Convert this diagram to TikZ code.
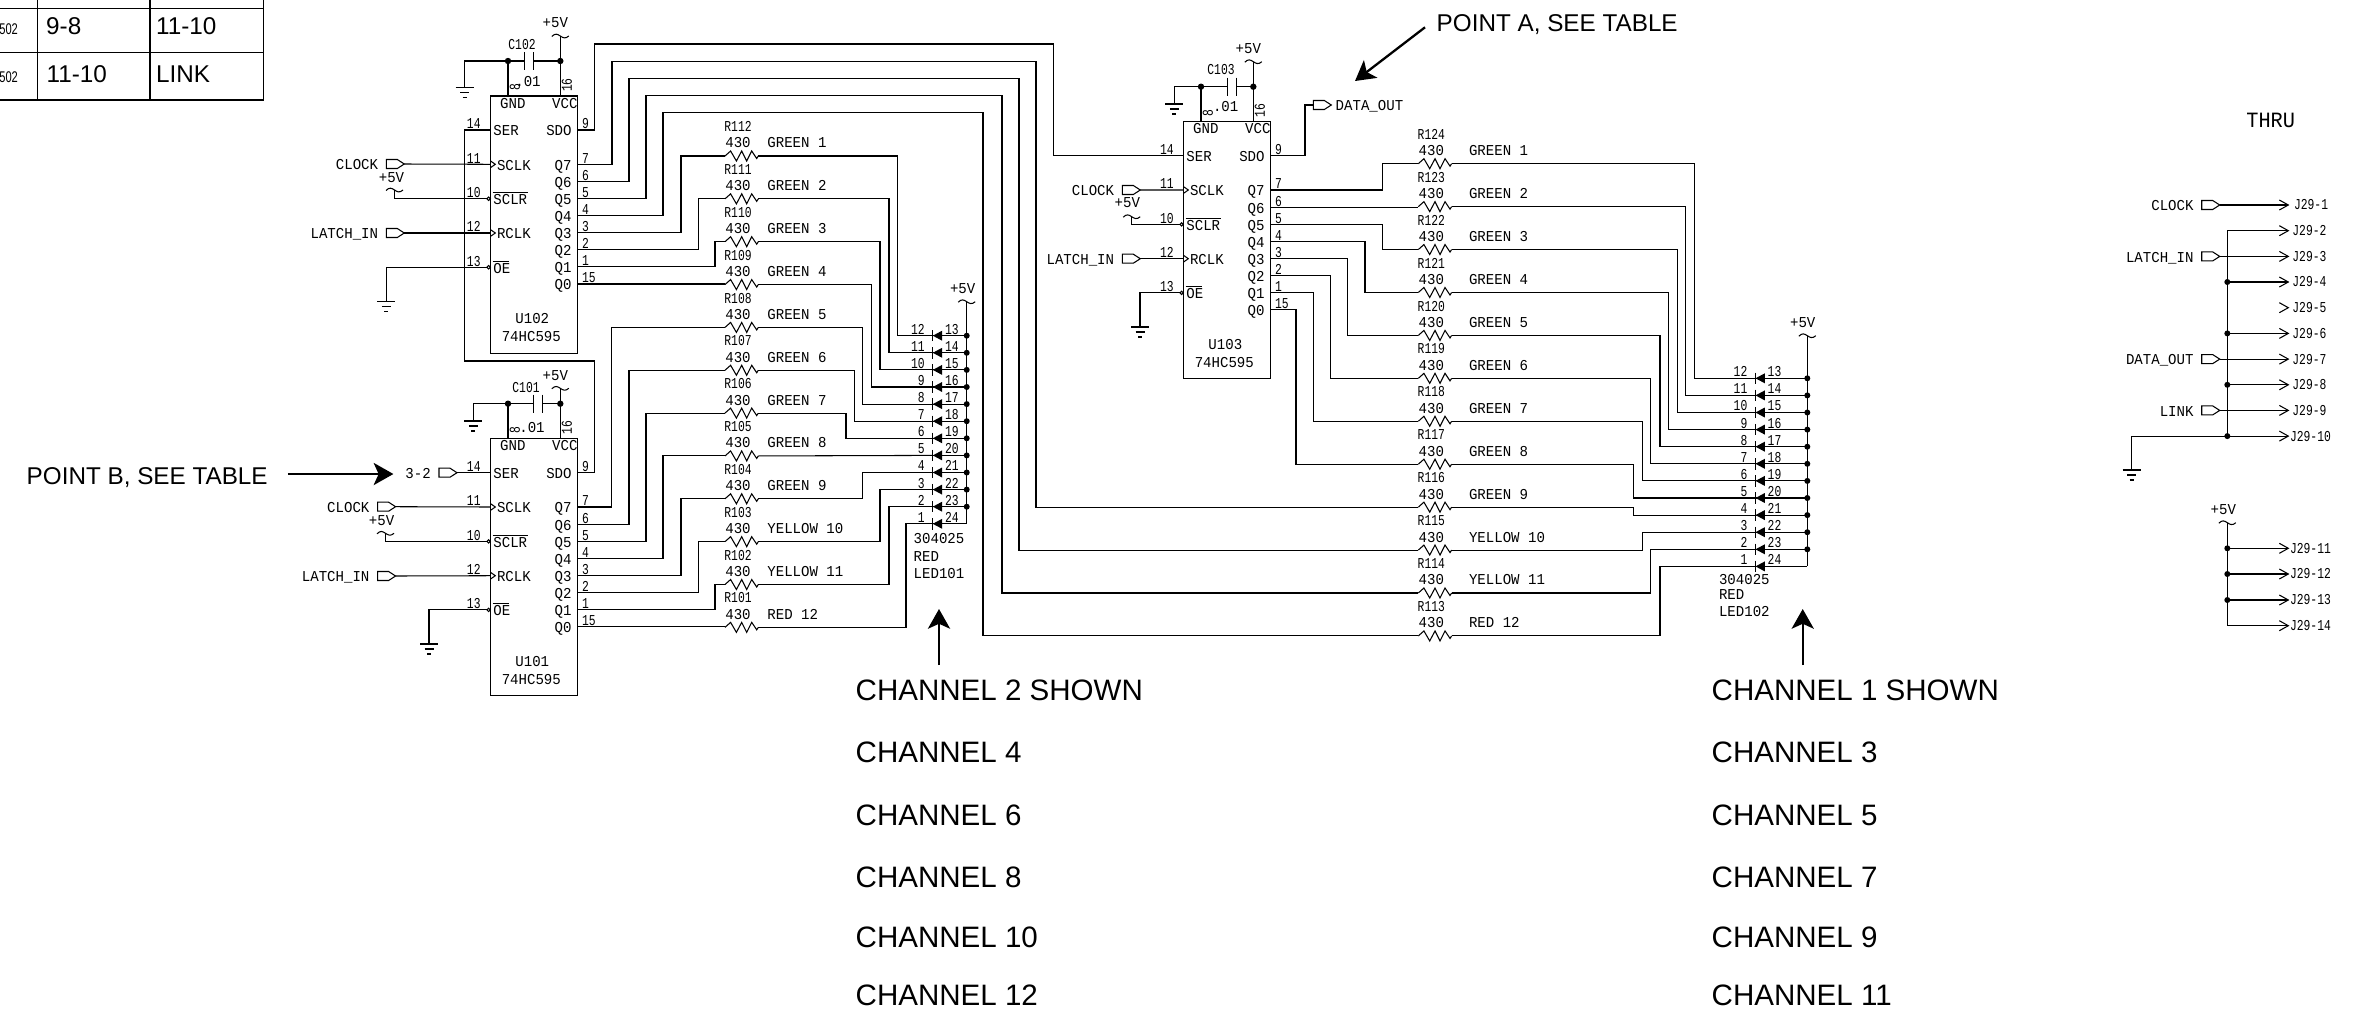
\documentclass[tikz,border=0pt]{standalone}
\usepackage{fontspec}
\setmainfont{Liberation Sans}
\newfontfamily\schfont[FakeStretch=0.93]{Liberation Mono}
\newfontfamily\pinfont[FakeStretch=0.75]{Liberation Mono}
\usetikzlibrary{arrows.meta}
\tikzset{
  wire/.style={line width=0.3pt},
  sch/.style={font=\schfont\fontsize{4.3}{5}\selectfont, inner sep=0pt, text height=2.8pt, text depth=0pt},
  pinnum/.style={font=\pinfont\fontsize{4.3}{5}\selectfont, inner sep=0pt, text height=2.8pt, text depth=0pt},
  thrutext/.style={font=\schfont\fontsize{6.2}{8}\selectfont, inner sep=0pt},
  chantext/.style={font=\fontsize{8.4}{10}\selectfont, inner sep=0pt, text height=6pt, text depth=0pt, anchor=west},
  pointtext/.style={font=\fontsize{6.9}{9}\selectfont, inner sep=0pt, text height=5pt, text depth=0pt, anchor=west},
  smalltext/.style={font=\fontsize{4.4}{6}\selectfont, inner sep=0pt, anchor=east},
  bigarrow/.style={line width=0.65pt, -{Stealth[length=5.6pt, width=6.3pt, inset=1.4pt]}},
  tbl/.style={line width=0.45pt},
  chipbox/.style={draw, wire, anchor=north west, minimum width=0.87cm, minimum height=2.57cm, inner sep=0pt, outer sep=0pt},
  gndsym/.pic={
    \draw[wire] (-9,0) -- (9,0) (-4.5,5) -- (4.5,5) (-2,10) -- (2,10);
  },
  vccsym/.pic={
    \draw[wire] (-8.5,0.5) .. controls (-5,-3) and (-3,-2) .. (0,0) .. controls (3,2) and (5,3) .. (8.5,0);
  },
  diodesym/.pic={
    \draw[wire] (0,-5.7) -- (0,5.7);
    \fill (0.5,0) -- (9.8,-5) -- (9.8,5) -- cycle;
  },
}
\newcommand{\port}[3]{
  \coordinate (#1-in) at (#2,#3);
  \draw[wire] (#2,#3) ++(0,-4.5) -- ++(11,0) -- ++(7,4.5) coordinate (#1) -- ++(-7,4.5) -- ++(-11,0) -- cycle;
}
\newcommand{\portl}[4]{
  \port{#1}{#3}{#4}
  \node[sch,anchor=east] (#1-lab) at (#3-7.5,#4+0.7) {#2};
}
\newcommand{\route}[3]{
  \draw[wire] (#1) -- (#2,0 |- #1) -- (#2,0 |- #3) -- (#3);
}
\newcommand{\longrun}[5]{
  \draw[wire] (#1) -- (#2,0 |- #1) -- (#2,#3) -- (#4,#3) -- (#4,0 |- #5) -- (#5);
}
\newcommand{\res}[5]{
  \begin{scope}[shift={(#3,#4)}]
    \coordinate (#1-a) at (0,0);
    \coordinate (#1-b) at (33.3,0);
    \draw[wire] (#1-a) -- (5.6,-5) -- (11.4,5) -- (16.7,-5) -- (21.7,5) -- (26.7,-5) -- (31.7,2.5) -- (#1-b);
    \node[pinnum] (#1-lab) at (13,-29.3) {#1};
    \node[sch] (#1-val) at (13,-13) {430};
    \node[sch,anchor=west] (#1-col) at (#5,-13) {#2};
  \end{scope}
}
\newcommand{\ledbank}[4]{
  \foreach \k in {0,...,11}{
    \pgfmathsetmacro\yy{#3+17.1*\k}
    \pgfmathtruncatemacro\na{12-\k}
    \pgfmathtruncatemacro\nb{13+\k}
    \coordinate (#1-\na) at (#2,\yy);
    \coordinate (#1-\nb) at (#4,\yy);
    \draw[wire] (#1-\na) -- (#1-\nb);
    \pic at (#1-\na) {diodesym};
    \node[pinnum,anchor=east] (#1-\na-lab) at (#2-7,\yy-6.5) {\na};
    \node[pinnum,anchor=west] (#1-\nb-lab) at (#2+12,\yy-6.5) {\nb};
    \ifnum\k<11 \fill (#1-\nb) circle (3); \fi
  }
}
% box, pins and texts of one 595, drawn from its top left corner
\newcommand{\chip}[1]{
  \node[chipbox] (#1) at (0,0) {};
  \foreach \pn/\num/\yy/\tx in {SER/14/34/2.4, SCLK/11/68.3/6, SCLR/10/102.7/2.4, RCLK/12/137/6, OE/13/171.2/2.4}{
    \coordinate (#1-\pn) at (0,\yy);
    \node[sch,anchor=west] (#1-\pn-txt) at (\tx,\yy+1) {\pn};
    \node[pinnum,anchor=east] (#1-\pn-num) at (-9,\yy-6) {\num};
  }
  \coordinate (#1-SCLR) at (-3.4,102.7);
  \coordinate (#1-OE) at (-3.4,171.2);
  \draw[wire] (-1.7,102.7) circle (1.7) (-1.7,171.2) circle (1.7);
  \draw[wire] (2.4,96.7) -- (37.7,96.7) (2.4,165.2) -- (19,165.2);
  \draw[wire] (0,64.8) -- (5,68.3) -- (0,71.8) (0,133.5) -- (5,137) -- (0,140.5);
  \foreach \pn/\num/\yy in {SDO/9/34, Q7/7/68.3, Q6/6/85.4, Q5/5/102.5, Q4/4/119.6, Q3/3/136.7, Q2/2/153.8, Q1/1/170.9, Q0/15/188}{
    \coordinate (#1-\pn) at (87,\yy);
    \node[sch,anchor=east] (#1-\pn-txt) at (82,\yy+1) {\pn};
    \node[pinnum,anchor=west] (#1-\pn-num) at (91,\yy-6) {\num};
  }
  \node[sch] (#1-gndtxt) at (22.5,7.3) {GND};
  \node[sch] (#1-vcctxt) at (74.5,7.3) {VCC};
  \node[sch] (#1-name) at (42,223) {#1};
  \node[sch] (#1-part) at (41,240.7) {74HC595};
}
\newcommand{\bypass}[9]{
  \coordinate (#1-gnd) at (17.7,-35);
  \coordinate (#1-vcc) at (70,-35);
  \coordinate (#1-a) at (#2,-35);
  \coordinate (#1-b) at (#2+9,-35);
  \coordinate (#1-g) at (#7,#8);
  \coordinate (#1-p) at (70,#9);
  \draw[wire] (#1-g) |- (#1-gnd) -- (#1-a) (#1-b) -- (#1-vcc);
  \draw[wire] (17.7,0) -- (#1-gnd) (70,0) -- (#1-p);
  \draw[wire] (#2,-44) -- (#2,-26) (#2+9,-44) -- (#2+9,-26);
  \fill (#1-gnd) circle (3.2) (#1-vcc) circle (3.2);
  \pic at (#1-g) {gndsym};
  \pic at (#1-p) {vccsym};
  \node[sch] (#1-five) at (65,#9-13) {+5V};
  \node[pinnum] (#1-lab) at (#3,#4) {#1};
  \node[sch] (#1-val) at (#5,#6) {.01};
  \node[pinnum,rotate=90] (#1-pin8) at (24.7,-8.7) {8};
  \node[pinnum,rotate=90] (#1-pin16) at (76.7,-11) {16};
}
\newcommand{\jpin}[3]{
  \coordinate (J29-#1) at (2288.3,#2);
  \draw[wire] (2279.3,#2-5) -- (J29-#1) -- (2279.3,#2+5);
  \node[pinnum,anchor=west] (J29-#1-lab) at (#3,#2) {J29-#1};
}
\begin{document}
\begin{tikzpicture}[x=0.01cm, y=-0.01cm]
  \useasboundingbox (0,0) rectangle (2361,1024);

  % table corner
  \draw[tbl] (0,8.3) -- (263.7,8.3) (0,52.3) -- (263.7,52.3) (0,100) -- (263.7,100);
  \draw[tbl] (37.6,0) -- (37.6,101) (150,0) -- (150,101) (263.7,0) -- (263.7,100);
  \node[smalltext] (t502a) at (18.6,29) {\scalebox{0.72}[1]{502}};
  \node[smalltext] (t502b) at (18.6,77) {\scalebox{0.72}[1]{502}};
  \node[pointtext] (t98) at (45.5,26) {9-8};
  \node[pointtext] (t1110a) at (155.4,26) {11-10};
  \node[pointtext] (t1110b) at (46,74) {11-10};
  \node[pointtext] (tlink) at (155.4,74) {LINK};

  \begin{scope}[shift={(490.3,96)}]
    \chip{U102}
    \bypass{C102}{34.4}{31.7}{-51}{37.7}{-14}{-25.7}{-8.7}{-60}
  \end{scope}
  \begin{scope}[shift={(490.3,438.7)}]
    \chip{U101}
    \bypass{C101}{43.5}{35.7}{-51.4}{41.7}{-11}{-17}{-17.7}{-50.4}
  \end{scope}
  \begin{scope}[shift={(1183.3,121.7)}]
    \chip{U103}
    \bypass{C103}{44}{37.7}{-51.7}{42.4}{-15}{-9}{-17.7}{-60}
  \end{scope}

  % inputs U102
  \portl{clkB}{CLOCK}{386.3}{164}
  \portl{latB}{LATCH\_IN}{386.3}{233}
  \coordinate (pullB) at (394.5,190);
  \coordinate (oeB) at (386.3,301.7);
  \pic at (pullB) {vccsym};
  \pic at (oeB) {gndsym};
  \node[sch] (fiveB) at (391.5,177.7) {+5V};
  \draw[wire] (clkB) -- (U102-SCLK);
  \draw[wire] (latB) -- (U102-RCLK);
  \draw[wire] (pullB) |- (U102-SCLR);
  \draw[wire] (U102-OE) -| (oeB);

  % inputs U101
  \portl{serA}{3-2}{439}{472.7}
  \portl{clkA}{CLOCK}{377.6}{506.7}
  \portl{latA}{LATCH\_IN}{377.6}{576}
  \coordinate (pullA) at (385.5,533.3);
  \coordinate (oeA) at (429,644);
  \pic at (pullA) {vccsym};
  \pic at (oeA) {gndsym};
  \node[sch] (fiveA) at (381.6,520.7) {+5V};
  \draw[wire] (serA) -- (U101-SER);
  \draw[wire] (clkA) -- (U101-SCLK);
  \draw[wire] (latA) -- (U101-RCLK);
  \draw[wire] (pullA) |- (U101-SCLR);
  \draw[wire] (U101-OE) -| (oeA);

  % inputs U103
  \portl{clkC}{CLOCK}{1122.3}{190}
  \portl{latC}{LATCH\_IN}{1122.3}{258.7}
  \port{dataC}{1313.3}{105}
  \node[sch,anchor=west] (dataC-lab) at (1335,105.7) {DATA\_OUT};
  \coordinate (pullC) at (1131.7,216.7);
  \coordinate (oeC) at (1140,327);
  \pic at (pullC) {vccsym};
  \pic at (oeC) {gndsym};
  \node[sch] (fiveC) at (1127.3,203) {+5V};
  \draw[wire] (clkC) -- (U103-SCLK);
  \draw[wire] (latC) -- (U103-RCLK);
  \draw[wire] (pullC) |- (U103-SCLR);
  \draw[wire] (U103-OE) -| (oeC);
  \draw[wire] (U103-SDO) -- (1305,0 |- U103-SDO) |- (dataC-in);

  % data chain between the chips
  \draw[wire] (U102-SER) -- (464.6,0 |- U102-SER) -- (464.6,361) -- (594.3,361) -- (594.3,0 |- U101-SDO) -- (U101-SDO);
  \longrun{U102-SDO}{594.3}{44}{1053.3}{U103-SER}

  % channel 2 resistors and LED
  \foreach \rname/\colr [count=\n from 0] in {R112/GREEN 1, R111/GREEN 2, R110/GREEN 3, R109/GREEN 4, R108/GREEN 5, R107/GREEN 6, R106/GREEN 7, R105/GREEN 8, R104/GREEN 9, R103/YELLOW 10, R102/YELLOW 11, R101/RED 12}{
    \pgfmathsetmacro\ry{156+42.85*\n}
    \res{\rname}{\colr}{725}{\ry}{41.7}
  }
  \ledbank{LEDA}{932.3}{335.7}{966.7}
  \coordinate (railA) at (966.7,301.7);
  \pic at (railA) {vccsym};
  \draw[wire] (railA) -- (LEDA-24);
  \node[sch] (railA-lab) at (962.7,289) {+5V};
  \node[sch,anchor=west] (LEDA-a) at (913,539) {304025};
  \node[sch,anchor=west] (LEDA-b) at (913,556.7) {RED};
  \node[sch,anchor=west] (LEDA-c) at (913,574) {LED101};

  \route{U102-Q3}{681}{R112-a}
  \route{U102-Q2}{698.3}{R111-a}
  \route{U102-Q1}{715}{R110-a}
  \draw[wire] (U102-Q0) -- (U102-Q0 -| R109-a);
  \route{U101-Q7}{611.7}{R108-a}
  \route{U101-Q6}{629}{R107-a}
  \route{U101-Q5}{646}{R106-a}
  \route{U101-Q4}{663}{R105-a}
  \route{U101-Q3}{681}{R104-a}
  \route{U101-Q2}{698.3}{R103-a}
  \route{U101-Q1}{715}{R102-a}
  \draw[wire] (U101-Q0) -- (U101-Q0 -| R101-a);
  \route{R112-b}{897.7}{LEDA-12}
  \route{R111-b}{889}{LEDA-11}
  \route{R110-b}{880}{LEDA-10}
  \route{R109-b}{871.7}{LEDA-9}
  \route{R108-b}{862.7}{LEDA-8}
  \route{R107-b}{854.3}{LEDA-7}
  \route{R106-b}{846}{LEDA-6}
  \draw[wire] (R105-b) -- (LEDA-5);
  \route{R104-b}{862.7}{LEDA-4}
  \route{R103-b}{880}{LEDA-3}
  \route{R102-b}{889}{LEDA-2}
  \route{R101-b}{906}{LEDA-1}

  % channel 1 resistors and LED
  \foreach \rname/\colr [count=\n from 0] in {R124/GREEN 1, R123/GREEN 2, R122/GREEN 3, R121/GREEN 4, R120/GREEN 5, R119/GREEN 6, R118/GREEN 7, R117/GREEN 8, R116/GREEN 9, R115/YELLOW 10, R114/YELLOW 11, R113/RED 12}{
    \pgfmathsetmacro\ry{163.7+42.93*\n}
    \res{\rname}{\colr}{1418.3}{\ry}{50}
  }
  \ledbank{LEDB}{1755}{378.3}{1807.3}
  \coordinate (railB) at (1807.3,335.7);
  \pic at (railB) {vccsym};
  \draw[wire] (railB) -- (LEDB-24);
  \node[sch] (railB-lab) at (1802.7,323) {+5V};
  \node[sch,anchor=west] (LEDB-a) at (1718.3,580) {304025};
  \node[sch,anchor=west] (LEDB-b) at (1718.3,595) {RED};
  \node[sch,anchor=west] (LEDB-c) at (1718.3,611.7) {LED102};

  \route{U103-Q7}{1382.7}{R124-a}
  \draw[wire] (U103-Q6) -- (U103-Q6 -| R123-a);
  \route{U103-Q5}{1382.7}{R122-a}
  \route{U103-Q4}{1365}{R121-a}
  \route{U103-Q3}{1347.7}{R120-a}
  \route{U103-Q2}{1330.7}{R119-a}
  \route{U103-Q1}{1313.3}{R118-a}
  \route{U103-Q0}{1296}{R117-a}
  \longrun{U102-Q7}{612}{61.7}{1036}{R116-a}
  \longrun{U102-Q6}{629}{78.7}{1019}{R115-a}
  \longrun{U102-Q5}{646}{95.7}{1002}{R114-a}
  \longrun{U102-Q4}{663}{112.7}{983}{R113-a}
  \route{R124-b}{1694.3}{LEDB-12}
  \route{R123-b}{1685.7}{LEDB-11}
  \route{R122-b}{1677.3}{LEDB-10}
  \route{R121-b}{1668.3}{LEDB-9}
  \route{R120-b}{1660}{LEDB-8}
  \route{R119-b}{1650.7}{LEDB-7}
  \route{R118-b}{1642.3}{LEDB-6}
  \route{R117-b}{1633.3}{LEDB-5}
  \route{R116-b}{1633.3}{LEDB-4}
  \route{R115-b}{1642.3}{LEDB-3}
  \route{R114-b}{1650.7}{LEDB-2}
  \route{R113-b}{1660}{LEDB-1}

  % notes
  \node[pointtext] (pointA) at (1436,22.7) {POINT A, SEE TABLE};
  \node[pointtext] (pointB) at (26,476) {POINT B, SEE TABLE};
  \coordinate (pointA-s) at (1425,27.3);
  \coordinate (pointA-t) at (1355,81);
  \coordinate (pointB-s) at (287.9,474);
  \coordinate (pointB-t) at (393.4,474);
  \draw[bigarrow] (pointA-s) -- (pointA-t);
  \draw[bigarrow] (pointB-s) -- (pointB-t);
  \coordinate (chan2-s) at (939,665);
  \coordinate (chan2-t) at (939,609);
  \coordinate (chan1-s) at (1802.7,665);
  \coordinate (chan1-t) at (1802.7,609);
  \draw[bigarrow] (chan2-s) -- (chan2-t);
  \draw[bigarrow] (chan1-s) -- (chan1-t);
  \foreach \yy/\ca/\cb in {689.7/2 SHOWN/1 SHOWN, 751.5/4/3, 814.7/6/5, 876.5/8/7, 936.7/10/9, 995.4/12/11}{
    \node[chantext] (ca-\yy) at (855,\yy) {CHANNEL \ca};
    \node[chantext] (cb-\yy) at (1711,\yy) {CHANNEL \cb};
  }

  % J29 header
  \node[thrutext] (thru) at (2270.7,120.7) {THRU};
  \foreach \j/\yy/\lx in {1/205/2293.3, 2/230.7/2291.7, 3/256.4/2291.7, 4/282/2291.7, 5/307.7/2291.7, 6/333.4/2291.7, 7/359.1/2291.7, 8/384.8/2291.7, 9/410.4/2291.7, 10/436.1/2289.3, 11/548.3/2289.3, 12/574/2289.3, 13/600/2289.3, 14/625.7/2289.3}{
    \jpin{\j}{\yy}{\lx}
  }
  \portl{clkJ}{CLOCK}{2201.7}{205}
  \portl{latJ}{LATCH\_IN}{2201.7}{256.4}
  \portl{dataJ}{DATA\_OUT}{2201.7}{359.1}
  \portl{linkJ}{LINK}{2201.7}{410.4}
  \draw[wire] (clkJ) -- (J29-1);
  \draw[wire] (latJ) -- (J29-3);
  \draw[wire] (dataJ) -- (J29-7);
  \draw[wire] (linkJ) -- (J29-9);
  \coordinate (jrail) at (2227.3,230.7);
  \coordinate (jgnd) at (2131.7,470);
  \pic at (jgnd) {gndsym};
  \draw[wire] (J29-2) -| (jrail |- J29-10);
  \draw[wire] (J29-10) -| (jgnd);
  \foreach \j in {4,6,8}{
    \draw[wire] (J29-\j) -- (jrail |- J29-\j);
    \fill (jrail |- J29-\j) circle (3);
  }
  \fill (jrail |- J29-10) circle (3);
  \coordinate (jfive) at (2227.3,522.7);
  \pic at (jfive) {vccsym};
  \node[sch] (jfive-lab) at (2223.3,510) {+5V};
  \draw[wire] (J29-14) -| (jfive);
  \foreach \j in {11,12,13}{
    \draw[wire] (J29-\j) -- (jfive |- J29-\j);
    \fill (jfive |- J29-\j) circle (3);
  }
\end{tikzpicture}
\end{document}
